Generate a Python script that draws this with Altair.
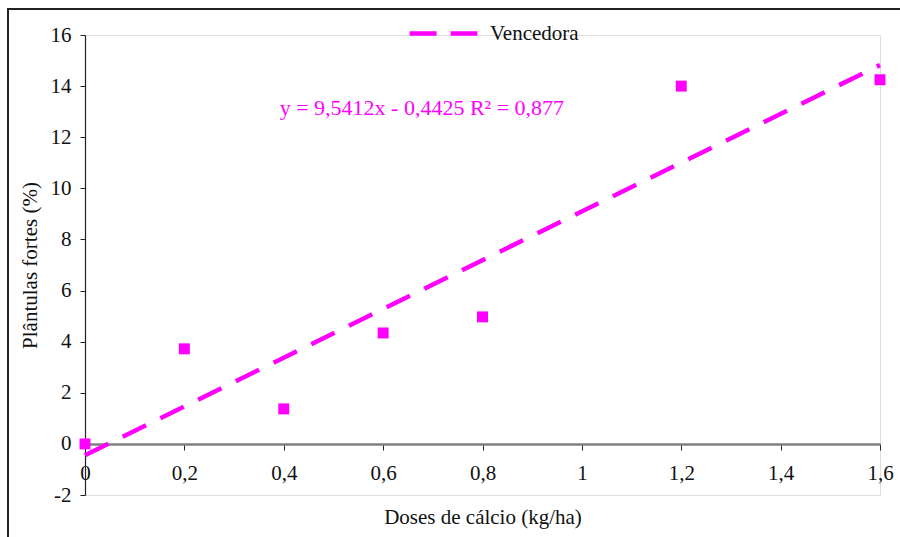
import altair as alt
import pandas as pd

doses = [0.0, 0.2, 0.4, 0.6, 0.8, 1.2, 1.6]
plantulas = [0.0, 3.72, 1.37, 4.34, 4.97, 14.0, 14.25]

trend_x = [0.0, 1.6]
trend_y = [-0.4425, 14.8234]
series_name = ["Vencedora", "Vencedora"]

x_ticks = [0, 0.2, 0.4, 0.6, 0.8, 1.0, 1.2, 1.4, 1.6]
y_ticks = [-2, 0, 2, 4, 6, 8, 10, 12, 14, 16]

eq_text = ["y = 9,5412x - 0,4425 R² = 0,877"]
eq_x = [0.678]
eq_y = [13.15]

FONT = "Liberation Serif"
MAG = "#FF00FF"
FS = 21

pts = pd.DataFrame({"x": doses, "y": plantulas})
trend = pd.DataFrame({"x": trend_x, "y": trend_y, "s": series_name})
eq = pd.DataFrame({"x": eq_x, "y": eq_y, "t": eq_text})

xscale = alt.Scale(domain=[0, 1.6], nice=False, zero=False)
yscale = alt.Scale(domain=[-2, 16], nice=False, zero=False)

frame = alt.Chart(pd.DataFrame({"a": [0]})).mark_rect(
    fill=None, stroke="#222222", strokeWidth=2, clip=False
).encode(
    x=alt.value(-77), x2=alt.value(900), y=alt.value(-26), y2=alt.value(600)
)

xaxis = alt.Axis(
    values=x_ticks, labelExpr="replace(format(datum.value, '~g'), '.', ',')",
    offset=-51, domainColor="#808080", domainWidth=2.5, tickColor="#222222",
    tickSize=6, labelPadding=12, labelFlush=False, labelFont=FONT, labelFontSize=FS,
    labelColor="#111111", grid=False, title="Doses de cálcio (kg/ha)", titleFont=FONT,
    titleFontSize=FS, titleFontWeight="normal", titleColor="#111111", titlePadding=23,
)
yaxis = alt.Axis(
    values=y_ticks,
    labelExpr="datum.value < 0 ? '-' + abs(datum.value) : '' + datum.value",
    domainColor="#222222", domainWidth=1.2, tickColor="#222222",
    tickSize=5, labelPadding=9, labelFont=FONT, labelFontSize=FS, labelColor="#111111",
    grid=False, title="Plântulas fortes (%)", titleFont=FONT, titleFontSize=FS,
    titleFontWeight="normal", titleColor="#111111", titlePadding=10,
)

line = alt.Chart(trend).mark_line(strokeDash=[26, 16], strokeWidth=4.5, clip=False).encode(
    x=alt.X("x:Q", scale=xscale, axis=xaxis),
    y=alt.Y("y:Q", scale=yscale, axis=yaxis),
    color=alt.Color(
        "s:N", scale=alt.Scale(domain=["Vencedora"], range=[MAG]),
        legend=alt.Legend(
            title=None, orient="none", legendX=322, legendY=-38,
            symbolType="stroke", symbolSize=4600, symbolStrokeWidth=4.5,
            symbolDash=[27, 14], labelFont=FONT, labelFontSize=FS, labelColor="#111111",
            labelOffset=10, padding=0,
        ),
    ),
)

points = alt.Chart(pts).mark_square(size=120, color=MAG, opacity=1, clip=False).encode(
    x=alt.X("x:Q", scale=xscale),
    y=alt.Y("y:Q", scale=yscale),
)

label = alt.Chart(eq).mark_text(font=FONT, fontSize=22, color=MAG).encode(
    x=alt.X("x:Q", scale=xscale), y=alt.Y("y:Q", scale=yscale), text="t:N"
)

chart = alt.layer(frame, line, points, label).properties(
    width=795, height=460,
    autosize=alt.AutoSizeParams(type="none"),
    padding={"left": 85, "top": 35, "right": 20, "bottom": 42},
).configure_view(stroke=None).configure(background="white")

chart.save("out.html", embed_options={"renderer": "svg", "actions": False})
